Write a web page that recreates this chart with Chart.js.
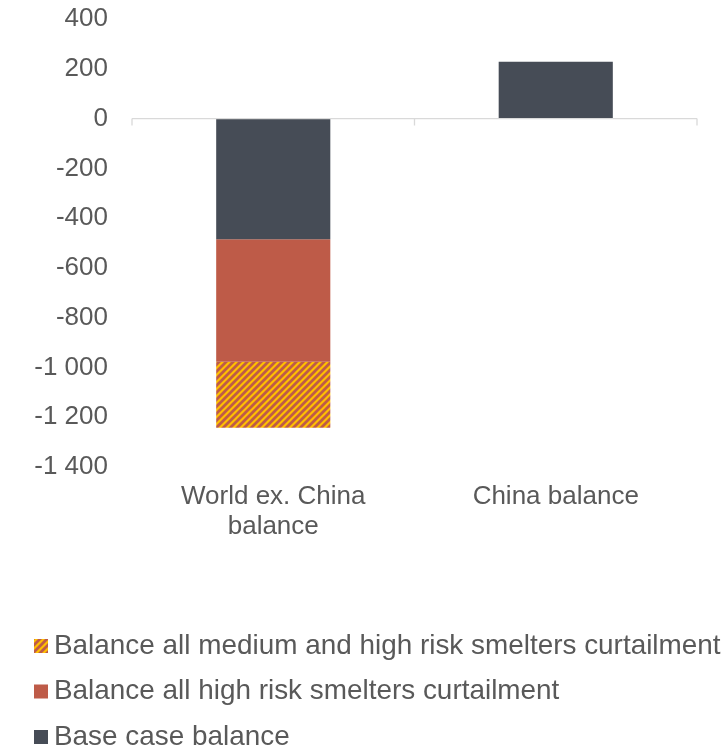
<!DOCTYPE html>
<html><head><meta charset="utf-8">
<script src="https://cdn.jsdelivr.net/npm/chart.js@4"></script>
<style>html,body{margin:0;padding:0;background:#fff}#wrap{width:725px;height:750px}</style>
</head><body><div id="wrap"><canvas id="c" width="725" height="750"></canvas></div>
<script>
const categories = [["World ex. China", "balance"], "China balance"];
const seriesNames = [
  "Base case balance",
  "Balance all high risk smelters curtailment",
  "Balance all medium and high risk smelters curtailment"
];
const baseCase = [-485, 228];
const highRisk = [-492, null];
const mediumHighRisk = [-265, null];
const yMin = -1400, yMax = 400, yStep = 200;

const FONT = "'Liberation Sans', Arial, sans-serif";
const TEXT = '#595959';
const DARK = '#464C56', RED = '#BE5B48', ORANGE = '#FFC000';

function makeHatch() {
  const s = 7;
  const t = document.createElement('canvas');
  t.width = s; t.height = s;
  const g = t.getContext('2d');
  g.fillStyle = ORANGE; g.fillRect(0, 0, s, s);
  g.strokeStyle = RED; g.lineWidth = 2.8;
  g.beginPath();
  g.moveTo(-1, s + 1); g.lineTo(s + 1, -1);
  g.moveTo(-2, 2); g.lineTo(2, -2);
  g.moveTo(s - 2, s + 2); g.lineTo(s + 2, s - 2);
  g.stroke();
  return document.getElementById('c').getContext('2d').createPattern(t, 'repeat');
}
const hatch = makeHatch();

const axisAndLegend = {
  id: 'axisAndLegend',
  afterDatasetsDraw(chart) {
    const ctx = chart.ctx, x = chart.scales.x, y = chart.scales.y;
    const y0 = y.getPixelForValue(0);
    ctx.save();
    ctx.strokeStyle = '#D9D9D9'; ctx.lineWidth = 1.3;
    ctx.beginPath();
    ctx.moveTo(chart.chartArea.left, y0); ctx.lineTo(chart.chartArea.right, y0);
    [-0.5, 0.5, 1.5].forEach(v => {
      const px = x.getPixelForValue(v);
      ctx.moveTo(px, y0); ctx.lineTo(px, y0 + 7);
    });
    ctx.stroke();
    ctx.restore();
  },
  afterDraw(chart) {
    const ctx = chart.ctx;
    const ds = chart.data.datasets.slice().reverse();
    ctx.save();
    ctx.font = '27.9px ' + FONT;
    ctx.textBaseline = 'middle';
    ctx.textAlign = 'left';
    ds.forEach((d, i) => {
      const cy = 646 + i * 45.5;
      ctx.fillStyle = d.backgroundColor;
      ctx.fillRect(34, cy - 7, 14, 14);
      ctx.fillStyle = TEXT;
      ctx.fillText(d.label, 54, cy);
    });
    ctx.restore();
  }
};

new Chart(document.getElementById('c'), {
  type: 'bar',
  data: {
    labels: categories,
    datasets: [
      { label: seriesNames[0], data: baseCase, backgroundColor: DARK },
      { label: seriesNames[1], data: highRisk, backgroundColor: RED },
      { label: seriesNames[2], data: mediumHighRisk, backgroundColor: hatch }
    ]
  },
  options: {
    responsive: false,
    animation: false,
    devicePixelRatio: 1,
    layout: { padding: { top: 19, right: 28, left: 0, bottom: 0 } },
    datasets: { bar: { barPercentage: 0.404, categoryPercentage: 1, borderWidth: 0 } },
    plugins: { legend: { display: false }, tooltip: { enabled: false } },
    scales: {
      x: {
        stacked: true,
        grid: { display: false, drawTicks: false },
        border: { display: false },
        ticks: { color: TEXT, font: { family: FONT, size: 26, lineHeight: 30 / 26 }, padding: 15, maxRotation: 0 },
        afterFit(s) { s.height = 283; s.paddingLeft = 0; s.paddingRight = 0; }
      },
      y: {
        stacked: true,
        min: yMin, max: yMax,
        grid: { display: false, drawTicks: false },
        border: { display: false },
        ticks: {
          stepSize: yStep, color: TEXT, padding: 24,
          font: { family: FONT, size: 26 },
          callback: v => String(v).replace(/\B(?=(\d{3})+(?!\d))/g, ' ')
        },
        afterFit(s) { s.width = 132; s.paddingTop = 0; s.paddingBottom = 0; }
      }
    }
  },
  plugins: [axisAndLegend]
});
</script>
</body></html>
